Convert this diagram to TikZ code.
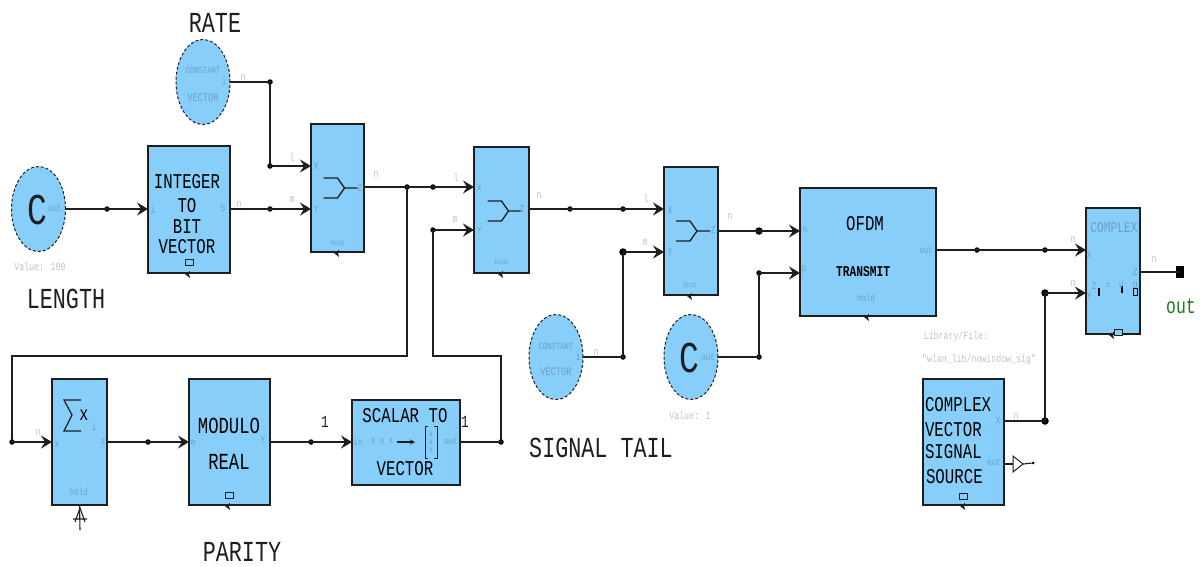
\documentclass[tikz,border=0pt]{standalone}
\usepackage{fontspec}
\usetikzlibrary{shapes.geometric,arrows.meta}
\newfontfamily\mymono[FakeStretch=0.75]{Liberation Mono}
\definecolor{blk}{HTML}{87CEFA}
\definecolor{ink}{HTML}{1E1E1E}
\definecolor{faintin}{HTML}{6A9EC6}
\definecolor{faintout}{HTML}{C2C2C2}
\definecolor{outgreen}{HTML}{1A7A1A}
\tikzset{
 x=1pt,y=-1pt,
 every node/.style={inner sep=0pt,outer sep=0pt},
 block/.style={draw=ink,fill=blk,line width=1.3pt,rectangle},
 disc/.style={draw=ink,fill=blk,line width=1pt,densely dashed,ellipse,minimum width=54pt,minimum height=85pt},
 jdot/.style={circle,fill=black,minimum size=5.5pt},
 jbig/.style={circle,fill=black,minimum size=7.5pt},
 wire/.style={draw=ink,line width=1.5pt},
 awire/.style={wire,-{Stealth[length=11pt,width=13pt,inset=4pt]}},
 bigt/.style={font=\mymono\fontsize{29}{30}\selectfont,text=ink},
 medt/.style={font=\mymono\fontsize{21}{22}\selectfont,text=black},
 modt/.style={font=\mymono\fontsize{23}{24}\selectfont,text=black},
 smallt/.style={font=\mymono\bfseries\fontsize{15}{16}\selectfont,text=black},
 cchar/.style={font=\mymono\fontsize{44}{44}\selectfont,text=ink},
 fin/.style={font=\mymono\fontsize{10}{11}\selectfont,text=faintin},
 tiny/.style={font=\mymono\fontsize{7}{8}\selectfont,text=faintin},
 fout/.style={font=\mymono\fontsize{11}{12}\selectfont,text=faintout},
 fconst/.style={font=\mymono\fontsize{9.5}{10}\selectfont,text=faintin},
 fvect/.style={font=\mymono\fontsize{11.5}{12}\selectfont,text=faintin},
 fcompl/.style={font=\mymono\fontsize{15}{16}\selectfont,text=faintin},
 oneb/.style={font=\mymono\fontsize{17}{18}\selectfont,text=ink},
 tickmark/.pic={\fill[ink] (-4,0) -- (1,-3) -- (0,0) -- (1,4) -- cycle;},
 subrect/.pic={\draw[ink,line width=1pt,fill=blk] (-4,-3) rectangle (4,3);},
 muxsym/.pic={\draw[ink,line width=1.3pt] (-14,-10) -- (0,-10) -- (7,0) -- (20,0) (-14,10) -- (0,10) -- (7,0);},
}
\begin{document}
\begin{tikzpicture}
\useasboundingbox (0,0) rectangle (1203,566);
% blocks
\node[block,minimum width=82pt,minimum height=127pt] (int) at (189,209.5) {};
\node[block,minimum width=53pt,minimum height=128pt] (muxa) at (337.5,188) {};
\node[block,minimum width=55pt,minimum height=126pt] (muxb) at (501.5,210) {};
\node[block,minimum width=54pt,minimum height=128pt] (muxc) at (691,231) {};
\node[block,minimum width=136pt,minimum height=128pt] (ofdm) at (868,252) {};
\node[block,minimum width=54pt,minimum height=126pt] (cplx) at (1113,271) {};
\node[block,minimum width=81pt,minimum height=126pt] (src) at (963.5,442) {};
\node[block,minimum width=55pt,minimum height=126pt] (sum) at (79.5,442) {};
\node[block,minimum width=81pt,minimum height=126pt] (mod) at (229.5,442) {};
\node[block,minimum width=108pt,minimum height=85pt] (sca) at (406,442.5) {};
\node[disc] (rate) at (203,82) {};
\node[disc] (clen) at (38.5,209) {};
\node[disc] (ctail) at (556,357) {};
\node[disc] (cone) at (691,357) {};
% junctions
\node[jdot] (j01) at (270,82) {};
\node[jdot] (j02) at (270,166) {};
\node[jdot] (j03) at (107,209) {};
\node[jdot] (j04) at (270,209) {};
\node[jdot] (j05) at (407,187) {};
\node[jdot] (j06) at (433,187) {};
\node[jdot] (j07) at (433,230) {};
\node[jdot] (j08) at (12,442) {};
\node[jdot] (j09) at (148,442) {};
\node[jdot] (j10) at (311,442) {};
\node[jdot] (j11) at (501,442) {};
\node[jdot] (j12) at (570,209) {};
\node[jdot] (j13) at (623,209) {};
\node[jbig] (j14) at (623,252) {};
\node[jdot] (j15) at (623,357) {};
\node[jbig] (j16) at (759,231) {};
\node[jdot] (j17) at (759,273) {};
\node[jdot] (j18) at (759,357) {};
\node[jdot] (j19) at (977,250) {};
\node[jdot] (j20) at (1045,250) {};
\node[jbig] (j21) at (1045,293) {};
\node[jbig] (j22) at (1045,421) {};
\coordinate (c1) at (407,356);
\coordinate (c2) at (12,356);
\coordinate (c3) at (501,356);
\coordinate (c4) at (433,356);
\node[draw=black,fill=black,minimum width=7pt,minimum height=11pt] (term) at (1180,272) {};
% connectors
\draw[wire] (rate.east) -- (j01.center) -- (j02.center);
\draw[awire] (j02.center) -- (j02 -| muxa.west);
\draw[awire] (clen.east) -- (clen.east -| int.west);
\draw[awire] (j04 -| int.east) -- (j04 -| muxa.west);
\draw[wire] (j05 -| muxa.east) -- (j06.center);
\draw[awire] (j06.center) -- (j06 -| muxb.west);
\draw[wire] (j05.center) -- (c1) -- (c2) -- (j08.center);
\draw[awire] (j08.center) -- (j08 -| sum.west);
\draw[awire] (j09 -| sum.east) -- (j09 -| mod.west);
\draw[awire] (j10 -| mod.east) -- (j10 -| sca.west);
\draw[wire] (j11 -| sca.east) -- (j11.center) -- (c3) -- (c4) -- (j07.center);
\draw[awire] (j07.center) -- (j07 -| muxb.west);
\draw[awire] (j12 -| muxb.east) -- (j12 -| muxc.west);
\draw[wire] (ctail.east) -- (j15.center) -- (j14.center);
\draw[awire] (j14.center) -- (j14 -| muxc.west);
\draw[awire] (j16 -| muxc.east) -- (j16 -| ofdm.west);
\draw[wire] (cone.east) -- (j18.center) -- (j17.center);
\draw[awire] (j17.center) -- (j17 -| ofdm.west);
\draw[awire] (j19 -| ofdm.east) -- (j19 -| cplx.west);
\draw[wire] (j22 -| src.east) -- (j22.center) -- (j21.center);
\draw[awire] (j21.center) -- (j21 -| cplx.west);
\draw[wire] (term -| cplx.east) -- (term.center);
% eot buffer
\node[jdot,minimum size=3pt] (eotend) at (1033,463) {};
\coordinate (eotin) at (1014,464);
\draw[ink,line width=1.1pt] (eotin -| src.east) -- (eotin);
\draw[ink,line width=1pt,fill=white] (1013,456) -- (1023,464) -- (1013,472) -- cycle;
\draw[ink,line width=1.1pt] (1023,464) -- (eotend);
% trigger arrow under the sum block
\coordinate (trig) at (80,530);
\draw[ink,line width=1.1pt] (sum.south) -- (trig);
\draw[ink,line width=1.1pt] (75,522) -- (80,508) -- (85,522) (73,519) -- (87,519);
% symbols
\pic at (muxa.center) {muxsym};
\pic at ([yshift=-1pt]muxb.center) {muxsym};
\pic at ([xshift=-1pt]muxc.center) {muxsym};
\draw[ink,line width=1.2pt] (81,400) -- (64,400) -- (72,415) -- (64,431) -- (81,431);
\draw[ink,line width=1.3pt,-{Stealth[length=5pt,width=5pt]}] (397,442) -- (415,442);
\draw[ink,line width=1pt] (428,426) -- (425,426) -- (425,458) -- (428,458) (434,426) -- (437,426) -- (437,458) -- (434,458);
\pic at (229.5,495) {subrect};
\pic at (189,262) {subrect};
\pic at (1118,332) {subrect};
\pic at (963,496) {subrect};
\fill[black] (1098,288) rectangle (1100,296);
\fill[black] (1121,286) rectangle (1123,293);
\draw[black,line width=1pt] (1133,288) rectangle (1137,295);
\foreach \tx/\ty in {189/274,338/253,502/274,691/296,868/317,1113/335,964/506,229/506}
  \pic at (\tx,\ty) {tickmark};
% main labels
\node[bigt] (tRate) at (215,23) {RATE};
\node[bigt] (tLen) at (66,299) {LENGTH};
\node[bigt] (tPar) at (242,552) {PARITY};
\node[bigt] (tSig) at (601,448) {SIGNAL TAIL};
\node[medt] (ti1) at (187,182) {INTEGER};
\node[medt] (ti2) at (187,206) {TO};
\node[medt] (ti3) at (187,227) {BIT};
\node[medt] (ti4) at (187,247) {VECTOR};
\node[modt] (tm1) at (229,426) {MODULO};
\node[modt] (tm2) at (229,462) {REAL};
\node[medt] (ts1) at (405,416) {SCALAR TO};
\node[medt] (ts2) at (405,469) {VECTOR};
\node[medt] (to1) at (865,224) {OFDM};
\node[smallt] (to2) at (863,272) {TRANSMIT};
\node[medt,anchor=west] (tc1) at (925,405) {COMPLEX};
\node[medt,anchor=west] (tc2) at (925,430) {VECTOR};
\node[medt,anchor=west] (tc3) at (925,452) {SIGNAL};
\node[medt,anchor=west] (tc4) at (926,477) {SOURCE};
\node[font=\mymono\fontsize{22}{23}\selectfont,text=outgreen] (tout) at (1181,306) {out};
\node[oneb] (tone1) at (325,422) {1};
\node[oneb] (tone2) at (465,422) {1};
\node[cchar] (cc1) at (37,210) {C};
\node[cchar] (cc2) at (689,358) {C};
\node[font=\mymono\fontsize{20}{20}\selectfont,text=black] (tx) at (84,415) {x};
% faint labels: discs
\node[fconst] (f01) at (203,70) {CONSTANT};
\node[fvect] (f02) at (203,98) {VECTOR};
\node[fin] (f03) at (224,81) {i};
\node[fout] (f04) at (243,78) {n};
\node[fin] (f05) at (55,208) {out};
\node[fout] (f06) at (40,267) {Value: 100};
\node[fconst] (f07) at (556,346) {CONSTANT};
\node[fvect] (f08) at (556,372) {VECTOR};
\node[fin] (f09) at (578,357) {i};
\node[fout] (f10) at (596,353) {n};
\node[fin] (f11) at (708,357) {out};
\node[fout] (f12) at (690,416) {Value: 1};
% faint labels: integer
\node[fin] (f13) at (153,210) {i};
\node[fin] (f14) at (223,208) {b};
\node[fout] (f15) at (239,205) {n};
% mux a
\node[fout] (f16) at (292,158) {l};
\node[fout] (f17) at (292,200) {m};
\node[fin] (f18) at (316,166) {X};
\node[fin] (f19) at (316,209) {Y};
\node[fin] (f20) at (360,188) {Z};
\node[fout] (f21) at (376,175) {n};
\node[tiny] (f22) at (338,243) {hold};
% mux b
\node[fout] (f23) at (456,178) {l};
\node[fout] (f24) at (455,220) {m};
\node[fin] (f25) at (479,188) {X};
\node[fin] (f26) at (479,230) {Y};
\node[fin] (f27) at (522,209) {Z};
\node[fout] (f28) at (539,196) {n};
\node[tiny] (f29) at (501,262) {hold};
% mux c
\node[fout] (f30) at (646,199) {l};
\node[fout] (f31) at (645,243) {m};
\node[fin] (f32) at (670,210) {X};
\node[fin] (f33) at (670,252) {Y};
\node[fin] (f34) at (713,230) {Z};
\node[fout] (f35) at (730,217) {n};
\node[tiny] (f36) at (690,285) {hold};
% ofdm
\node[fin] (f37) at (805,230) {n};
\node[fin] (f38) at (804,270) {p};
\node[fin] (f39) at (926,250) {out};
\node[fin] (f40) at (866,298) {hold};
% complex
\node[fcompl] (f41) at (1114,228) {COMPLEX};
\node[fout] (f42) at (1073,240) {n};
\node[fout] (f43) at (1073,284) {n};
\node[fin] (f44) at (1089,255) {X};
\node[fin] (f45) at (1089,296) {Y};
\node[fin] (f46) at (1135,272) {Z};
\node[fout] (f47) at (1154,260) {n};
\node[fin] (f48) at (1094,286) {Z};
\node[fin] (f49) at (1108,286) {=};
\node[fin] (f50) at (1121,285) {V};
\node[fin] (f51) at (1135,285) {U};
% source
\node[fout] (f52) at (956,337) {Library/File:};
\node[fout] (f53) at (979,360) {"wlan\_lib/nowindow\_sig"};
\node[fin] (f54) at (998,420) {X};
\node[fout] (f55) at (1016,417) {n};
\node[fin] (f56) at (994,462) {eot};
% sum, modulo, scalar
\node[fout] (f57) at (38,433) {n};
\node[fin] (f58) at (57,445) {x};
\node[fin] (f59) at (94,427) {i};
\node[fin] (f60) at (103,442) {z};
\node[fin] (f61) at (79,492) {hold};
\node[fin] (f62) at (193,443) {m};
\node[fin] (f63) at (263,440) {y};
\node[fin] (f64) at (358,442) {in};
\node[fin] (f65) at (451,441) {out};
\node[fin] (f66) at (382,441) {x x x};
\node[font=\mymono\fontsize{9}{9}\selectfont,text=faintin,align=center] (f67) at (431,442) {x\\[-1pt]x\\[-1pt]x};
\end{tikzpicture}
\end{document}
